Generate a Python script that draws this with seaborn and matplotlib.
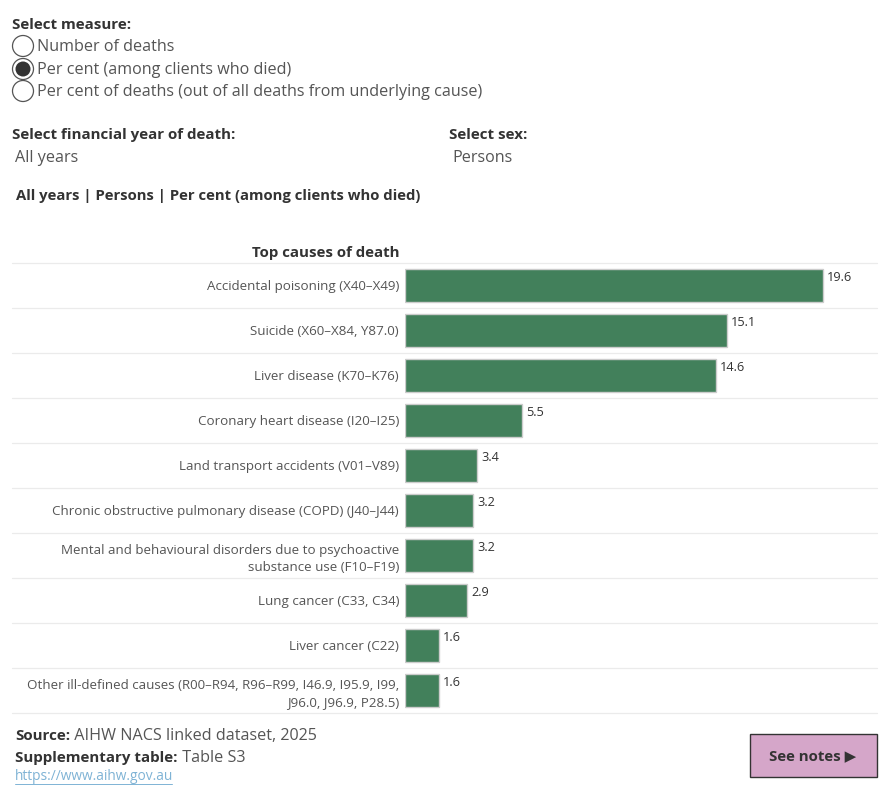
import matplotlib
matplotlib.use("Agg")
import matplotlib.pyplot as plt
import seaborn as sns
import pandas as pd
from matplotlib.patches import Circle, Rectangle

causes = [
    "Accidental poisoning (X40–X49)",
    "Suicide (X60–X84, Y87.0)",
    "Liver disease (K70–K76)",
    "Coronary heart disease (I20–I25)",
    "Land transport accidents (V01–V89)",
    "Chronic obstructive pulmonary disease (COPD) (J40–J44)",
    "Mental and behavioural disorders due to psychoactive\nsubstance use (F10–F19)",
    "Lung cancer (C33, C34)",
    "Liver cancer (C22)",
    "Other ill-defined causes (R00–R94, R96–R99, I46.9, I95.9, I99,\nJ96.0, J96.9, P28.5)",
]
values = [19.6, 15.1, 14.6, 5.5, 3.4, 3.2, 3.2, 2.9, 1.6, 1.6]
value_labels = ["19.6", "15.1", "14.6", "5.5", "3.4", "3.2", "3.2", "2.9", "1.6", "1.6"]

measures = ["Number of deaths", "Per cent (among clients who died)",
            "Per cent of deaths (out of all deaths from underlying cause)"]
selected_measure = 1

sns.set_theme(style="white")
FONT = ["Open Sans", "DejaVu Sans"]
plt.rcParams["font.family"] = FONT

W, H = 890, 800
fig = plt.figure(figsize=(W / 100, H / 100), dpi=100)

ov = fig.add_axes([0, 0, 1, 1], zorder=0)
ov.set_xlim(0, W)
ov.set_ylim(H, 0)
ov.axis("off")

left, right, top, bottom = 405, 877, 263, 713
ax = fig.add_axes([left / W, 1 - bottom / H, (right - left) / W, (bottom - top) / H], zorder=1)
ax.patch.set_alpha(0)

df = pd.DataFrame({"cause": causes, "value": values})
sns.barplot(data=df, x="value", y="cause", color="#42805b", saturation=1,
            edgecolor="#cccccc", linewidth=1, width=0.75, ax=ax)
ax.set_xlim(0, 22.15)
ax.set_ylim(len(causes) - 0.5, -0.5)
ax.set_xlabel("")
ax.set_ylabel("")
ax.set_xticks([])
ax.set_yticks(range(len(causes)), labels=causes, ha="right", ma="right",
              linespacing=1.4, fontsize=9.68, color="#555555")
for s in ax.spines.values():
    s.set_visible(False)
ax.tick_params(axis="y", length=0, pad=4.3)

ext = (left - 12) / (right - left)
for i in range(len(causes) + 1):
    ax.axhline(i - 0.5, xmin=-ext, xmax=1, color="#ebebeb", lw=0.9, clip_on=False, zorder=0)

for i, (v, t) in enumerate(zip(values, value_labels)):
    ax.annotate(t, xy=(v, i - 0.18), xytext=(3, 0), textcoords="offset points",
                ha="left", va="center", fontsize=9.2, color="#333333")

ov.text(399, 253, "Top causes of death", ha="right", va="center",
        fontsize=10.8, fontweight="bold", color="#333333")

FS = 11.6
FB = 10.9
ov.text(12, 25, "Select measure:", ha="left", va="center", fontsize=FB,
        fontweight="bold", color="#333333")
for k, (m, y) in enumerate(zip(measures, [46, 69, 91])):
    ov.add_patch(Circle((23, y), 10.5, facecolor="white", edgecolor="#555555", lw=0.9))
    if k == selected_measure:
        ov.add_patch(Circle((23, y), 7.5, facecolor="#333333", edgecolor="none"))
    ov.text(37, y + 1, m, ha="left", va="center", fontsize=FS, color="#555555")

ov.text(12, 135, "Select financial year of death:", ha="left", va="center",
        fontsize=FB, fontweight="bold", color="#333333")
ov.text(15, 158, "All years", ha="left", va="center", fontsize=FS, color="#555555")
ov.text(449, 135, "Select sex:", ha="left", va="center",
        fontsize=FB, fontweight="bold", color="#333333")
ov.text(452, 158, "Persons", ha="left", va="center", fontsize=FS, color="#555555")

ov.text(16, 196, "All years | Persons | Per cent (among clients who died)", ha="left",
        va="center", fontsize=10.7, fontweight="bold", color="#333333")

t1 = ov.text(15, 736, "Source:", ha="left", va="center", fontsize=FB,
             fontweight="bold", color="#333333")
ov.annotate(" AIHW NACS linked dataset, 2025", xycoords=t1, xy=(1, 0.5), va="center",
            ha="left", fontsize=FS, color="#555555")
t2 = ov.text(15, 758, "Supplementary table:", ha="left", va="center", fontsize=FB,
             fontweight="bold", color="#333333")
ov.annotate(" Table S3", xycoords=t2, xy=(1, 0.5), va="center",
            ha="left", fontsize=FS, color="#555555")
ov.text(15, 777, "https://www.aihw.gov.au", ha="left", va="center", fontsize=9.9,
        color="#7fb3d5")
ov.plot([15, 172], [784, 784], color="#7fb3d5", lw=0.7)

ov.add_patch(Rectangle((750, 734), 127, 43, facecolor="#d5a6c9", edgecolor="#333333", lw=1))
ov.text(813, 756, "See notes ▶", ha="center", va="center", fontsize=10.8,
        fontweight="bold", color="#333333")

fig.savefig("out.png", dpi=100, facecolor="white")
